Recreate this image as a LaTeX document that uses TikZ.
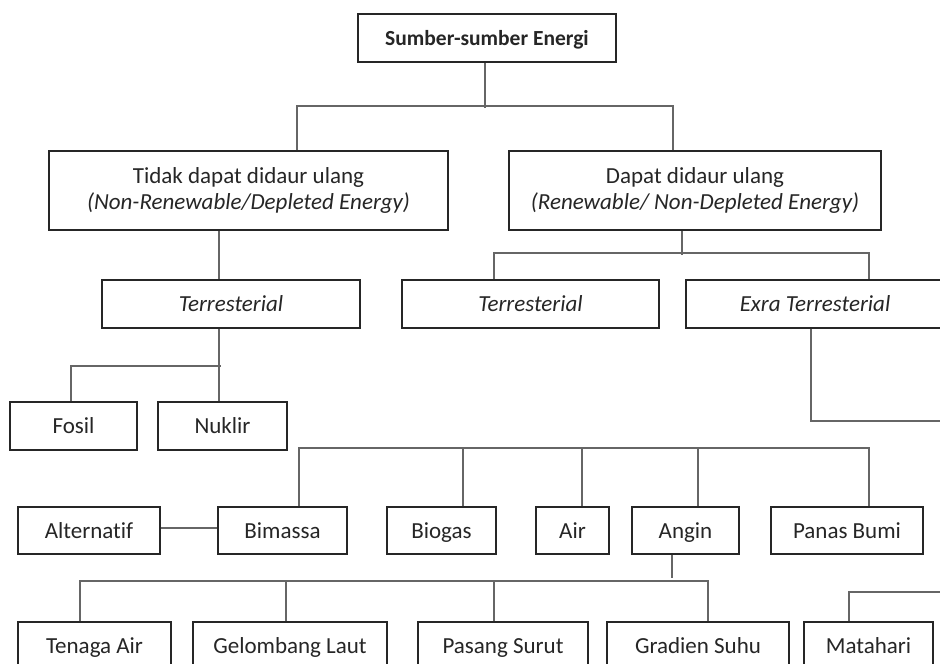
\documentclass[tikz,border=0pt]{standalone}
\usepackage{fontspec}
\setmainfont[Ligatures=NoCommon]{Carlito}
\begin{document}
\begin{tikzpicture}[x=1pt,y=-1pt,
  box/.style={draw=black!85, line width=1.9pt, inner sep=0pt, align=center,
    text=black!85, font=\fontsize{23}{26}\selectfont},
  one/.style={box, text height=15pt, text depth=0pt},
  conn/.style={draw=black!60, line width=1.3pt}]
\useasboundingbox (0,0) rectangle (940,664);
\clip (0,0) rectangle (940,664);
\fill[white] (0,0) rectangle (940,664);
% row 1
\node[one, minimum width=258pt, minimum height=48pt, font=\fontsize{21.5}{26}\selectfont\bfseries, text height=14pt] (top) at (487,38) {Sumber-sumber Energi};
% row 2
\node[box, minimum width=399pt, minimum height=79pt] (tidak) at (248.5,190.5) {Tidak dapat didaur ulang\\\textit{(Non-Renewable/Depleted Energy)}};
\node[box, minimum width=372pt, minimum height=79pt] (dapat) at (695,190.5) {Dapat didaur ulang\\\textit{(Renewable/ Non-Depleted Energy)}};
% row 3
\node[one, minimum width=258pt, minimum height=48pt] (terrL) at (231,304) {\textit{Terresterial}};
\node[one, minimum width=257pt, minimum height=48pt] (terrR) at (530.5,304) {\textit{Terresterial}};
\node[one, minimum width=258pt, minimum height=48pt] (exra) at (815,304) {\textit{Exra Terresterial}};
% row 4
\node[one, minimum width=127pt, minimum height=48pt] (fosil) at (73.5,426) {Fosil};
\node[one, minimum width=129pt, minimum height=48pt] (nuklir) at (222.5,426) {Nuklir};
% row 5
\node[one, minimum width=142pt, minimum height=47pt] (alternatif) at (89,530.5) {Alternatif};
\node[one, minimum width=129pt, minimum height=47pt] (bimassa) at (282.5,530.5) {Bimassa};
\node[one, minimum width=109pt, minimum height=47pt] (biogas) at (441.5,530.5) {Biogas};
\node[one, minimum width=73pt, minimum height=47pt] (air) at (572.5,530.5) {Air};
\node[one, minimum width=107pt, minimum height=47pt] (angin) at (685.5,530.5) {Angin};
\node[one, minimum width=152pt, minimum height=47pt] (panas) at (847,530.5) {Panas Bumi};
% row 6
\node[one, minimum width=153pt, minimum height=47pt] (tenaga) at (94.5,645.5) {Tenaga Air};
\node[one, minimum width=194pt, minimum height=47pt] (gelombang) at (290,645.5) {Gelombang Laut};
\node[one, minimum width=170pt, minimum height=47pt] (pasang) at (503,645.5) {Pasang Surut};
\node[one, minimum width=182pt, minimum height=47pt] (gradien) at (698,645.5) {Gradien Suhu};
\node[one, minimum width=129pt, minimum height=47pt] (matahari) at (868.5,645.5) {Matahari};
% free ends at the right edge
\coordinate (eExra) at (945,421);
\coordinate (eMat) at (945,592);
% connectors
\draw[conn] ([xshift=-2]top.south) -- ++(0,45);
\draw[conn] ([xshift=48.5]tidak.north) -- ++(0,-44) -| ([xshift=-22]dapat.north);
\draw[conn] ([xshift=-29.5]tidak.south) -- ([xshift=-12]terrL.north);
\draw[conn] ([xshift=-12]terrL.south) -- ([xshift=-3.5]nuklir.north);
\draw[conn] ([xshift=-2.5]fosil.north) -- ++(0,-35) -- ++(150,0);
\draw[conn] ([xshift=-13]dapat.south) -- ++(0,24);
\draw[conn] ([xshift=-36.5]terrR.north) -- ++(0,-26) -| ([xshift=54]exra.north);
\draw[conn] ([xshift=-4]exra.south) |- (eExra);
\draw[conn] ([xshift=16.5]bimassa.north) -- ++(0,-58) -| ([xshift=22]panas.north);
\draw[conn] ([xshift=21.5]biogas.north) -- ++(0,-58);
\draw[conn] ([xshift=9.5]air.north) -- ++(0,-58);
\draw[conn] ([xshift=12.5]angin.north) -- ++(0,-58);
\draw[conn] ([yshift=2.5]alternatif.east) -- ([yshift=2.5]bimassa.west);
\draw[conn] ([xshift=-13.5]angin.south) -- ++(0,23);
\draw[conn] ([xshift=-14.5]tenaga.north) -- ++(0,-40) -| ([xshift=10]gradien.north);
\draw[conn] ([xshift=-4]gelombang.north) -- ++(0,-40);
\draw[conn] ([xshift=-9]pasang.north) -- ++(0,-40);
\draw[conn] ([xshift=-19.5]matahari.north) |- (eMat);
\end{tikzpicture}
\end{document}
